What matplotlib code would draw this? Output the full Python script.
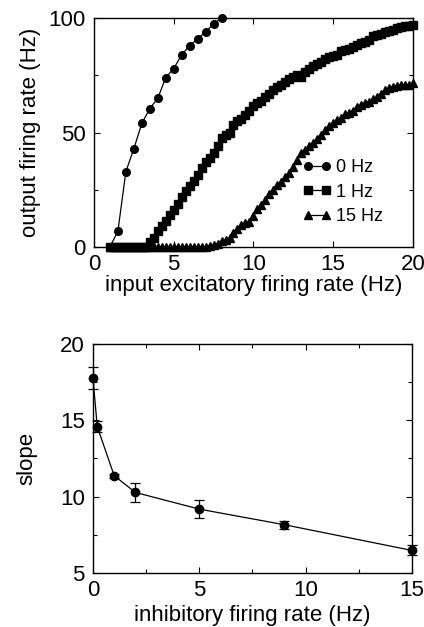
import numpy as np
import matplotlib
matplotlib.use("Agg")
import matplotlib.pyplot as plt
from matplotlib.ticker import MultipleLocator

plt.rcParams['font.family'] = ['Liberation Sans', 'DejaVu Sans']

# ---- top panel data ----
x_0hz = [1, 1.5, 2, 2.5, 3, 3.5, 4, 4.5, 5, 5.5, 6, 6.5, 7, 7.5, 8]
y_0hz = [0, 7, 33, 43, 54, 60.5, 65, 74, 78, 84, 88, 91, 94, 97.5, 100]

x_dense = [1 + 0.25 * i for i in range(77)]
y_1hz = [0, 0, 0, 0, 0, 0, 0, 0, 0, 0,
         2, 4, 7, 9, 11.5, 14, 16, 19, 22, 24.5,
         26.5, 29, 31.5, 34.5, 37, 39, 41, 44, 47.5, 49,
         50, 53.5, 55, 56, 57.5, 59.5, 61.5, 63, 64, 65.5,
         67, 68.5, 70, 71, 72, 73.5, 74.5, 75, 74.5, 76.5,
         78, 79, 80, 81, 82, 83, 83.5, 84, 85.5, 86,
         86.5, 87.5, 88.5, 89, 89.5, 90.5, 92, 92.5, 93, 94,
         94.5, 95, 95.5, 96, 96.5, 96.8, 97]
y_15hz = [0, 0, 0, 0, 0, 0, 0, 0, 0, 0,
          0, 0, 0, 0, 0, 0, 0, 0, 0, 0,
          0, 0, 0, 0, 0.2, 0.5, 1, 1.5, 2.5, 3,
          4, 6, 8, 9.5, 10.5, 11, 13.5, 16.5, 18.5, 20.5,
          23, 25, 27, 28.5, 30.5, 32.5, 35, 38, 41, 42.5,
          44, 45.5, 47, 49, 51, 53, 54, 55.5, 56.5, 58,
          58.5, 59.5, 61, 62, 63, 63.5, 64.5, 65.5, 67, 68.5,
          69.5, 70, 70.5, 70.8, 71, 71, 71.5]

series_labels = ["0 Hz", "1 Hz", "15 Hz"]

# ---- bottom panel data ----
inh_rate = [0, 0.2, 1, 2, 5, 9, 15]
slope = [17.75, 14.58, 11.36, 10.27, 9.18, 8.16, 6.48]
slope_err = [0.7, 0.37, 0.15, 0.63, 0.58, 0.26, 0.33]

fig = plt.figure(figsize=(4.24, 6.27), dpi=100)
ax1 = fig.add_axes([0.2217, 0.606, 0.752, 0.365])
ax2 = fig.add_axes([0.2193, 0.0861, 0.752, 0.3657])

FS = 16
ms = 5.5
lw = 0.9

ax1.plot(x_0hz, y_0hz, '-o', color='black', ms=ms, lw=lw, label=series_labels[0], clip_on=False, zorder=3)
ax1.plot(x_dense, y_1hz, '-s', color='black', ms=ms, lw=lw, label=series_labels[1], clip_on=False, zorder=3)
ax1.plot(x_dense, y_15hz, '-^', color='black', ms=6, lw=lw, label=series_labels[2], clip_on=False, zorder=3)
ax1.set_xlim(0, 20)
ax1.set_ylim(0, 100)
ax1.xaxis.set_major_locator(MultipleLocator(5))
ax1.yaxis.set_major_locator(MultipleLocator(50))
ax1.yaxis.set_minor_locator(MultipleLocator(25))
ax1.set_xlabel("input excitatory firing rate (Hz)", fontsize=FS, labelpad=0)
ax1.set_ylabel("output firing rate (Hz)", fontsize=FS, labelpad=5)
leg = ax1.legend(loc='upper left', bbox_to_anchor=(0.655, 0.385), frameon=False,
                 fontsize=13, numpoints=2, handlelength=1.6, handletextpad=0.25,
                 labelspacing=0.42, borderpad=0, borderaxespad=0)

ax2.errorbar(inh_rate, slope, yerr=slope_err, fmt='-o', color='black', ms=6, lw=lw,
             elinewidth=0.9, capsize=3.5, capthick=0.9, clip_on=False, zorder=3)
ax2.set_xlim(0, 15)
ax2.set_ylim(5, 20)
ax2.xaxis.set_major_locator(MultipleLocator(5))
ax2.xaxis.set_minor_locator(MultipleLocator(2.5))
ax2.yaxis.set_major_locator(MultipleLocator(5))
ax2.yaxis.set_minor_locator(MultipleLocator(2.5))
ax2.set_xlabel("inhibitory firing rate (Hz)", fontsize=FS, labelpad=3)
ax2.set_ylabel("slope", fontsize=FS, labelpad=16)

for ax in (ax1, ax2):
    ax.tick_params(which='both', direction='in', top=True, right=True, labelsize=FS)
    ax.tick_params(axis='y', which='both', pad=6)
    ax.tick_params(axis='x', which='both', pad=5)
    ax.tick_params(which='major', length=4, width=0.8)
    ax.tick_params(which='minor', length=3, width=0.8)
    for s in ax.spines.values():
        s.set_linewidth(1.0)

fig.savefig("out.png", dpi=100)
